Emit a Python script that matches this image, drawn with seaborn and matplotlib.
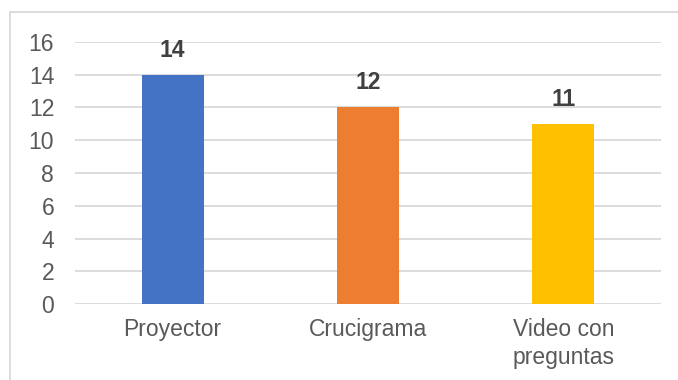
import matplotlib
matplotlib.use("Agg")
import matplotlib.pyplot as plt
from matplotlib.patches import Rectangle
import seaborn as sns
import pandas as pd

categories = ["Proyector", "Crucigrama", "Video con\npreguntas"]
values = [14, 12, 11]
colors = ["#4472C4", "#ED7D31", "#FFC000"]
y_ticks = [0, 2, 4, 6, 8, 10, 12, 14, 16]

sns.set_theme(style="white")
plt.rcParams["font.family"] = ["Liberation Sans", "DejaVu Sans"]

df = pd.DataFrame({"categoria": categories, "valor": values})

fig = plt.figure(figsize=(6.78, 3.80), dpi=100)
ax = fig.add_axes([75 / 678, 76 / 380, 586 / 678, 262 / 380])

sns.barplot(data=df, x="categoria", y="valor", hue="categoria",
            palette=colors, width=0.317, saturation=1, legend=False,
            linewidth=0, ax=ax)

ax.set_ylim(0, 16)
ax.set_yticks(y_ticks)
ax.yaxis.grid(True, color="#D9D9D9", linewidth=1.3)
ax.set_axisbelow(True)
for s in ax.spines.values():
    s.set_visible(False)
ax.set_xlabel("")
ax.set_ylabel("")
ax.tick_params(axis="both", length=0, labelsize=16.5, labelcolor="#595959")
ax.tick_params(axis="y", pad=15)
ax.tick_params(axis="x", pad=10)
for lbl in ax.get_xticklabels():
    lbl.set_linespacing(1.3)

for patch, v in zip(ax.patches, values):
    ax.annotate(str(v), (patch.get_x() + patch.get_width() / 2, v),
                xytext=(0, 9.5), textcoords="offset points",
                ha="center", va="bottom", fontsize=16.5, fontweight="bold",
                color="#404040")

# Chart area frame
fig.patches.append(Rectangle((10 / 678, -0.2), 1.2, (380 - 12) / 380 + 0.2,
                             transform=fig.transFigure, fill=False,
                             edgecolor="#D9D9D9", linewidth=1.3))

fig.savefig("out.png", dpi=100)
